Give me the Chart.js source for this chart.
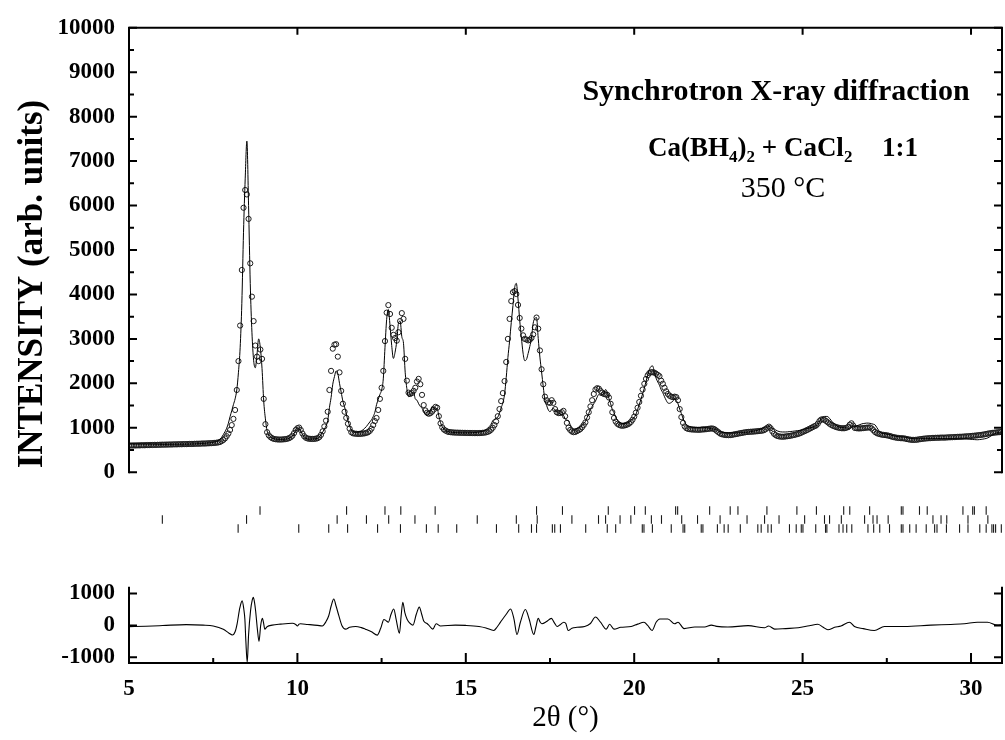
<!DOCTYPE html>
<html>
<head>
<meta charset="utf-8">
<title>Ca(BH4)2 + CaCl2 1:1, 350 °C</title>
<script src="https://cdn.jsdelivr.net/npm/chart.js@4.4.1/dist/chart.umd.min.js"></script>
<style>
  html, body { margin: 0; padding: 0; background: #fff; }
  #wrap { position: relative; width: 1005px; height: 740px; overflow: hidden; }
  #wrap canvas { position: absolute; left: 0; }
  #chartObs { top: 0; }
  #chartRefl { top: 506px; }
  #chartDiff { top: 560px; }
</style>
</head>
<body>
<div id="wrap">
  <canvas id="chartObs" width="1005" height="500"></canvas>
  <canvas id="chartRefl" width="1005" height="27"></canvas>
  <canvas id="chartDiff" width="1005" height="180"></canvas>
</div>
<script>
// measured pattern: 2theta grid starts at 5 deg, step 0.05 deg, one row per degree
const obsStart = 5;
const obsStep = 0.05;

// observed intensity (rows start at 5, 6, 7 ... 30 deg)
const obsRows = [
  [598,602,600,603,601,605,603,606,608,606,609,611,610,613,612,615,614,617,616,619],
  [620,619,622,621,624,623,625,627,626,628,630,629,631,633,632,634,636,635,637,639],
  [640,642,641,644,646,645,648,650,652,654,657,660,664,670,680,700,725,760,810,870],
  [950,1060,1200,1400,1850,2500,3300,4550,5950,6350,6250,5700,4700,3950,3400,2850,2600,2500,2760,2550],
  [1650,1080,900,830,790,765,750,742,738,735,735,737,740,745,752,765,785,820,880,950],
  [990,1005,950,870,810,775,760,752,750,748,750,755,765,790,840,920,1030,1160,1360,1850],
  [2280,2780,2870,2880,2600,2246,1830,1540,1360,1222,1090,980,900,875,868,865,862,862,865,870],
  [875,885,900,930,980,1060,1150,1220,1400,1650,1900,2280,2950,3590,3760,3560,3250,3090,3020,2960],
  [3150,3400,3580,3450,2550,2060,1790,1760,1780,1830,1900,2040,2100,1980,1740,1510,1390,1340,1315,1330],
  [1363,1410,1470,1450,1260,1100,1010,960,935,915,905,900,895,893,890,890,888,887,886,885],
  [884,883,882,882,881,880,880,880,881,883,886,890,896,908,925,955,1000,1060,1140,1260],
  [1420,1600,1780,2050,2480,3000,3450,3850,4050,4075,4010,3764,3470,3230,3080,3000,2985,2966,2980,3020],
  [3100,3260,3480,3230,2740,2316,1980,1700,1620,1570,1560,1620,1560,1420,1350,1330,1330,1350,1380,1260],
  [1110,1000,950,915,900,905,925,945,970,1010,1060,1120,1230,1350,1480,1620,1760,1860,1890,1880],
  [1830,1790,1760,1750,1740,1680,1540,1350,1220,1140,1090,1065,1050,1045,1050,1060,1075,1095,1130,1180],
  [1250,1340,1450,1580,1720,1860,1990,2100,2180,2230,2250,2250,2240,2215,2190,2160,2060,1990,1900,1820],
  [1760,1720,1700,1690,1700,1690,1620,1420,1240,1110,1030,990,975,968,962,960,958,956,955,955],
  [960,962,965,970,975,980,985,978,960,930,900,870,855,845,838,835,833,835,840,848],
  [855,862,870,878,885,892,898,903,907,910,912,915,918,922,926,930,935,945,965,1000],
  [1025,990,920,865,835,815,805,800,798,800,805,810,815,822,830,838,848,858,870,885],
  [905,920,938,955,975,995,1015,1035,1050,1090,1150,1185,1190,1175,1150,1120,1090,1065,1045,1030],
  [1015,1005,995,990,988,990,1000,1015,1070,1100,1050,995,990,985,985,988,992,998,1002,1005],
  [1008,985,945,905,880,865,855,845,840,835,830,822,812,800,790,782,775,770,766,764],
  [762,755,745,738,732,728,727,728,732,738,745,750,755,758,762,764,767,770,772,774],
  [775,776,778,779,778,780,783,785,786,788,790,792,795,797,798,800,803,806,808,810],
  [815,818,822,826,830,835,840,845,852,860,868,874,880,886,890,895,898,902,905]
];

// calculated (refined) profile on the same grid
const calcRows = [
  [640,639,639,638,638,637,637,636,636,635,635,634,633,632,631,630,629,628,627,626],
  [625,625,625,626,626,627,627,627,628,628,628,629,629,630,631,632,633,634,636,638],
  [640,642,644,646,648,650,653,657,661,667,674,681,690,710,740,785,845,910,990,1100],
  [1250,1380,1520,1650,1850,2250,2800,3800,5400,6600,7450,6000,4250,3150,2520,2350,2650,3000,2800,2330],
  [1600,1200,930,840,795,770,755,745,740,737,736,737,740,745,750,760,780,815,870,940],
  [1000,985,920,850,795,765,750,745,745,748,750,755,765,790,840,900,970,1040,1160,1450],
  [1680,1980,2150,2280,2220,2000,1800,1600,1470,1320,1160,1040,950,915,900,900,905,915,930,955],
  [990,1030,1080,1130,1180,1250,1350,1520,1640,1750,1850,2100,2800,3440,3660,3300,2850,2560,2700,2950],
  [3350,3400,3050,2900,2250,1880,1700,1720,1770,1800,1650,1620,1540,1480,1440,1375,1300,1280,1307,1390],
  [1480,1450,1420,1430,1260,1115,1025,970,940,920,908,902,897,894,892,891,889,888,887,887],
  [887,887,887,888,890,892,895,900,905,912,920,935,960,990,1030,1080,1160,1190,1210,1240],
  [1330,1450,1560,1750,2130,2580,2950,3370,3750,4150,4250,3900,3420,3030,2680,2510,2535,2670,2830,3020],
  [3350,3460,3480,3010,2590,2256,1920,1610,1500,1400,1360,1410,1440,1390,1380,1330,1310,1290,1280,1200],
  [1170,1160,1070,1005,980,975,985,995,1015,1050,1095,1140,1230,1320,1420,1480,1540,1600,1690,1750],
  [1730,1740,1780,1860,1800,1660,1540,1410,1338,1240,1170,1135,1110,1095,1095,1100,1113,1130,1164,1190],
  [1230,1300,1410,1520,1640,1765,1890,2040,2180,2310,2380,2390,2240,2115,2030,1957,1857,1787,1697,1617],
  [1557,1550,1570,1600,1650,1610,1540,1420,1320,1210,1125,1070,1045,1028,1017,1010,1008,1006,1005,1005],
  [1010,1012,1005,1000,995,985,977,975,968,960,935,910,900,895,890,887,886,885,884,884],
  [884,885,886,887,889,892,896,900,905,912,918,924,932,942,955,970,990,1015,1015,1020],
  [1040,1010,990,983,950,930,915,908,905,905,905,908,912,916,920,925,930,936,940,948],
  [955,965,975,985,995,1005,1015,1030,1045,1060,1140,1205,1240,1255,1255,1250,1210,1165,1115,1085],
  [1050,1025,1012,1005,1000,1000,1000,990,975,1010,1030,1030,1040,1055,1070,1085,1095,1100,1105,1105],
  [1100,1090,1080,1065,1010,950,905,880,870,865,860,852,842,830,820,812,805,800,797,796],
  [796,788,778,770,763,757,753,751,750,752,755,757,758,759,759,759,759,760,760,760],
  [760,759,758,757,757,756,756,756,756,756,755,754,753,753,752,752,753,750,746,742],
  [740,736,734,731,730,734,739,744,751,759,773,794,820,846,865,883,890,887,880]
];

// difference curve (observed - calculated): [2theta, counts]
const diffCurve = [
  [5.0,-40],[5.5,-25],[6.0,-5],[6.7,25],[7.2,10],[7.5,-17],[7.8,-120],[7.97,-245],[8.07,-300],
  [8.15,-200],[8.21,50],[8.29,550],[8.36,770],[8.41,500],[8.44,200],[8.47,-500],[8.51,-1170],
  [8.55,-300],[8.61,470],[8.66,800],[8.69,880],[8.73,700],[8.76,450],[8.81,-100],[8.86,-500],
  [8.91,0],[8.96,220],[9.0,50],[9.03,-120],[9.1,-40],[9.25,8],[9.5,40],[9.85,67],[9.95,30],
  [10.0,-17],[10.05,40],[10.09,50],[10.3,30],[10.6,0],[10.74,-17],[10.85,120],[10.93,304],
  [11.0,600],[11.08,827],[11.15,600],[11.23,304],[11.32,0],[11.43,-118],[11.55,-60],[11.73,-34],
  [11.9,-70],[12.02,-118],[12.2,-200],[12.37,-304],[12.47,-100],[12.57,186],[12.63,150],[12.7,101],
  [12.78,350],[12.86,515],[12.93,200],[13.03,-245],[13.08,300],[13.13,726],[13.19,400],[13.26,186],
  [13.35,60],[13.43,8],[13.53,350],[13.62,574],[13.69,350],[13.75,135],[13.85,60],[13.9,8],
  [14.02,-118],[14.12,50],[14.25,-17],[14.69,8],[15.0,0],[15.39,-34],[15.6,-80],[15.83,-160],
  [15.93,-50],[16.03,101],[16.2,350],[16.33,515],[16.43,200],[16.52,-287],[16.62,100],[16.77,498],
  [16.88,200],[17.02,-287],[17.08,-50],[17.15,219],[17.21,100],[17.26,50],[17.4,120],[17.54,219],
  [17.63,80],[17.71,-34],[17.8,20],[17.91,101],[17.97,60],[18.04,-160],[18.15,-90],[18.3,-60],
  [18.53,-34],[18.7,60],[18.85,262],[19.0,100],[19.17,-118],[19.27,34],[19.4,-118],[19.6,-60],
  [19.91,-34],[20.1,40],[20.29,101],[20.4,0],[20.53,-160],[20.65,100],[20.76,203],[21.0,203],
  [21.2,50],[21.3,101],[21.48,-101],[21.8,-50],[22.09,-51],[22.29,8],[22.45,-30],[22.78,-51],
  [23.38,-8],[23.87,-76],[23.99,-17],[24.17,-118],[24.5,-100],[24.87,-76],[25.2,-10],[25.45,34],
  [25.6,-50],[25.75,-135],[25.95,-60],[26.14,-17],[26.39,101],[26.54,-34],[26.8,-100],[27.13,-160],
  [27.43,-34],[28.02,-34],[28.81,8],[29.4,30],[29.8,50],[30.19,101],[30.49,101],[30.78,8],[30.92,25]
];

// Bragg reflection positions, three phases (top row first)
const reflPhase1 = [8.89,11.46,12.60,13.07,14.09,17.10,17.87,19.23,20.01,20.33,21.23,21.29,22.24,22.85,
  23.08,23.94,24.83,25.41,26.22,26.40,26.99,27.93,27.98,28.47,28.70,29.76,30.05,30.10,30.45];
const reflPhase2 = [5.99,8.49,11.18,12.05,12.71,13.49,15.34,16.50,17.12,18.15,18.94,19.15,19.58,19.90,
  20.51,20.81,21.41,21.88,22.55,23.35,23.87,24.30,25.06,25.65,25.80,26.15,26.84,27.09,27.21,27.54,
  28.87,29.11,29.28,29.91,30.50];
const reflPhase3 = [8.24,10.04,10.93,11.49,12.38,13.06,13.83,14.18,14.73,15.91,16.57,16.95,17.10,17.57,
  17.64,17.81,18.56,19.20,19.45,20.24,20.29,20.54,21.10,21.45,21.50,21.99,22.04,22.47,22.67,22.79,
  23.15,23.67,23.77,23.97,24.07,24.61,24.81,24.96,25.01,25.39,25.68,25.72,26.08,26.20,26.31,26.46,
  26.94,27.11,27.29,27.58,27.93,27.98,28.18,28.37,28.67,28.92,28.99,29.27,29.66,29.91,30.26,30.45,
  30.62,30.67,30.73,30.90];

// axis ticks
const xMin = 5;
const xMax = 30.92;
const xTicks = [5, 10, 15, 20, 25, 30];
const xMinorTicks = [7.5, 12.5, 17.5, 22.5, 27.5];
const xTopTicks = [10, 15, 20, 25, 30];
const upperYTicks = [0, 1000, 2000, 3000, 4000, 5000, 6000, 7000, 8000, 9000, 10000];
const upperYMinor = [500, 1500, 2500, 3500, 4500, 5500, 6500, 7500, 8500, 9500];
const diffYTicks = [-1000, 0, 1000];

const serif = "'Liberation Serif', 'Times New Roman', Times, serif";
Chart.defaults.font.family = serif;
Chart.defaults.color = '#000';

const tickFont = { family: serif, size: 23, weight: 'bold' };

function rowsToPoints(rows) {
  const pts = [];
  rows.forEach((row, r) => {
    row.forEach((y, j) => {
      pts.push({ x: +(obsStart + r + j * obsStep).toFixed(2), y: y });
    });
  });
  return pts;
}

function fixedTicks(values) {
  return function (scale) {
    scale.ticks = values.map(v => ({ value: v }));
  };
}

// box lines and inward tick marks
const framePlugin = {
  id: 'frame',
  afterDatasetsDraw(chart, args, o) {
    const ctx = chart.ctx;
    const a = chart.chartArea;
    const xs = chart.scales.x;
    const ys = chart.scales.y;
    const seg = (x1, y1, x2, y2) => { ctx.moveTo(x1, y1); ctx.lineTo(x2, y2); };
    ctx.save();
    ctx.strokeStyle = '#000';
    ctx.lineWidth = 2;
    ctx.beginPath();
    seg(a.left, a.top - 1, a.left, a.bottom + 1);
    seg(a.right, a.top - 1, a.right, a.bottom + 1);
    if (o.top) seg(a.left - 1, a.top, a.right + 1, a.top);
    if (o.bottom) seg(a.left - 1, a.bottom, a.right + 1, a.bottom);
    ctx.stroke();

    ctx.beginPath();
    (o.yMajor || []).forEach(v => {
      const y = ys.getPixelForValue(v);
      seg(a.left, y, a.left + 8, y);
      seg(a.right, y, a.right - 8, y);
    });
    (o.yMinor || []).forEach(v => {
      const y = ys.getPixelForValue(v);
      seg(a.left, y, a.left + 5, y);
      seg(a.right, y, a.right - 5, y);
    });
    (o.xTop || []).forEach(v => {
      const x = xs.getPixelForValue(v);
      seg(x, a.top, x, a.top + 7);
    });
    (o.xBottom || []).forEach(v => {
      const x = xs.getPixelForValue(v);
      seg(x, a.bottom, x, a.bottom - 10);
    });
    (o.xBottomMinor || []).forEach(v => {
      const x = xs.getPixelForValue(v);
      seg(x, a.bottom, x, a.bottom - 5);
    });
    ctx.stroke();
    ctx.restore();
  }
};

// texts of the upper panel
const panelTextPlugin = {
  id: 'panelText',
  afterDraw(chart) {
    const ctx = chart.ctx;
    ctx.save();
    ctx.fillStyle = '#000';
    ctx.textBaseline = 'alphabetic';

    ctx.font = 'bold 30px ' + serif;
    ctx.textAlign = 'center';
    ctx.fillText('Synchrotron X-ray diffraction', 776, 100);

    const big = 'bold 27px ' + serif;
    const small = 'bold 17px ' + serif;
    const parts = [['Ca(BH', big, 0], ['4', small, 6], [')', big, 0], ['2', small, 6], [' + CaCl', big, 0], ['2', small, 6]];
    ctx.textAlign = 'left';
    let x = 648;
    parts.forEach(p => {
      ctx.font = p[1];
      ctx.fillText(p[0], x, 156 + p[2]);
      x += ctx.measureText(p[0]).width;
    });
    ctx.font = big;
    ctx.textAlign = 'right';
    ctx.fillText('1:1', 918, 156);

    ctx.font = '30px ' + serif;
    ctx.textAlign = 'center';
    ctx.fillText('350 °C', 783, 197);

    ctx.translate(42, 284);
    ctx.rotate(-Math.PI / 2);
    ctx.font = 'bold 35px ' + serif;
    ctx.textAlign = 'center';
    ctx.fillText('INTENSITY (arb. units)', 0, 0);
    ctx.restore();
  }
};

// upper panel: observed points and calculated profile
new Chart(document.getElementById('chartObs'), {
  type: 'scatter',
  data: {
    datasets: [
      {
        label: 'calculated',
        data: rowsToPoints(calcRows),
        showLine: true,
        borderColor: '#000',
        borderWidth: 1,
        pointRadius: 0,
        cubicInterpolationMode: 'monotone',
        order: 0
      },
      {
        label: 'observed',
        data: rowsToPoints(obsRows),
        pointStyle: 'circle',
        pointRadius: 2.6,
        borderWidth: 1,
        borderColor: '#1c1c1c',
        backgroundColor: 'rgba(0,0,0,0)',
        order: 1
      }
    ]
  },
  options: {
    responsive: false,
    animation: false,
    events: [],
    layout: { autoPadding: false, padding: { left: 0, right: 3, top: 24, bottom: 4 } },
    plugins: {
      legend: { display: false },
      tooltip: { enabled: false },
      frame: { top: true, yMajor: upperYTicks, yMinor: upperYMinor, xTop: xTopTicks }
    },
    scales: {
      x: { type: 'linear', min: xMin, max: xMax, display: false },
      y: {
        type: 'linear', min: 0, max: 10000,
        afterBuildTicks: fixedTicks(upperYTicks),
        afterFit: s => { s.width = 129; },
        grid: { display: false, drawTicks: false },
        border: { display: false },
        ticks: { font: tickFont, color: '#000', padding: 14, autoSkip: false, callback: v => String(v) }
      }
    }
  },
  plugins: [framePlugin, panelTextPlugin]
});

// reflection markers
function reflSet(values, row) {
  return {
    data: values.map(v => ({ x: v, y: row })),
    pointStyle: 'line',
    rotation: 90,
    pointRadius: 4.3,
    borderWidth: 1.1,
    borderColor: '#1a1a1a'
  };
}

new Chart(document.getElementById('chartRefl'), {
  type: 'scatter',
  data: { datasets: [reflSet(reflPhase1, 2.5), reflSet(reflPhase2, 1.5), reflSet(reflPhase3, 0.5)] },
  options: {
    responsive: false,
    animation: false,
    events: [],
    layout: { autoPadding: false, padding: { left: 129, right: 3, top: 0, bottom: 0 } },
    plugins: { legend: { display: false }, tooltip: { enabled: false } },
    scales: {
      x: { type: 'linear', min: xMin, max: xMax, display: false },
      y: { type: 'linear', min: 0, max: 3, display: false }
    }
  }
});

// lower panel: difference curve
new Chart(document.getElementById('chartDiff'), {
  type: 'scatter',
  data: {
    datasets: [{
      label: 'difference',
      data: diffCurve.map(p => ({ x: p[0], y: p[1] })),
      showLine: true,
      borderColor: '#000',
      borderWidth: 1.1,
      pointRadius: 0,
      cubicInterpolationMode: 'monotone'
    }]
  },
  options: {
    responsive: false,
    animation: false,
    events: [],
    layout: { autoPadding: false, padding: { left: 0, right: 3, top: 10, bottom: 0 } },
    plugins: {
      legend: { display: false },
      tooltip: { enabled: false },
      frame: { bottom: true, yMajor: diffYTicks, xBottom: xTicks, xBottomMinor: xMinorTicks }
    },
    scales: {
      x: {
        type: 'linear', min: xMin, max: xMax,
        afterBuildTicks: fixedTicks(xTicks),
        afterFit: s => { s.height = 77; },
        grid: { display: false, drawTicks: false },
        border: { display: false },
        ticks: { font: tickFont, color: '#000', padding: 12, autoSkip: false, maxRotation: 0, callback: v => String(v) },
        title: { display: true, text: '2θ (°)', color: '#000', font: { family: serif, size: 29 }, padding: { top: 4, bottom: 4 } }
      },
      y: {
        type: 'linear', min: -1180, max: 1180,
        afterBuildTicks: fixedTicks(diffYTicks),
        afterFit: s => { s.width = 129; },
        grid: { display: false, drawTicks: false },
        border: { display: false },
        ticks: { font: tickFont, color: '#000', padding: 14, autoSkip: false, callback: v => String(v) }
      }
    }
  },
  plugins: [framePlugin]
});
</script>
</body>
</html>
